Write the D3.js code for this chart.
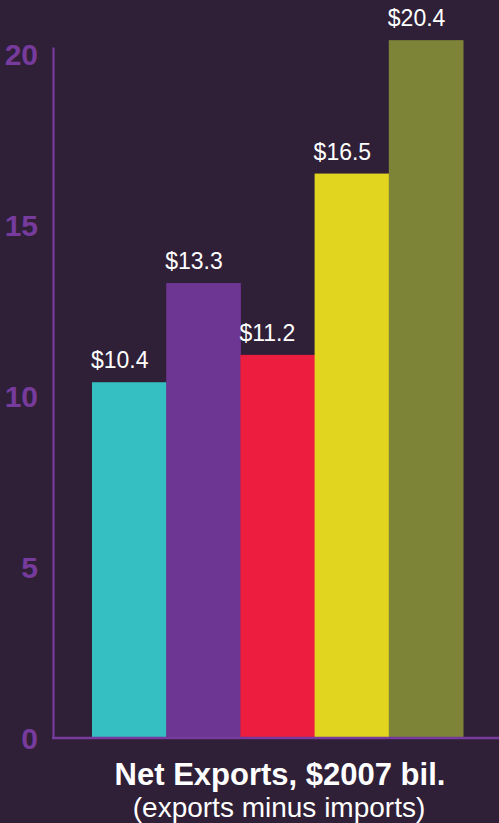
<!DOCTYPE html>
<html>
<head>
<meta charset="utf-8">
<script src="https://cdn.jsdelivr.net/npm/d3@7"></script>
<style>
  html, body { margin: 0; padding: 0; background: #2f2037; }
  svg { display: block; font-family: "Liberation Sans", Arial, Helvetica, sans-serif; }
</style>
</head>
<body>
<div id="chart"></div>
<script>
// data
const categories = ["A", "B", "C", "D", "E"];
const values = [10.4, 13.3, 11.2, 16.5, 20.4];
const valueLabels = ["$10.4", "$13.3", "$11.2", "$16.5", "$20.4"];
const yTicks = [0, 5, 10, 15, 20];
const barColors = ["#36bfc3", "#6d3692", "#ec1d3e", "#e1d51f", "#7d8437"];

const chartSettings = {
    width: 499,
    height: 823,
    axisX: 53,
    baseY: 738,
    axisTop: 47,
    barsLeft: 92,
    barsRight: 463,
    purple: "#763b9c",
};

const svg = d3.select("#chart").append("svg")
    .attr("width", chartSettings.width)
    .attr("height", chartSettings.height);

svg.append("rect")
    .attr("width", chartSettings.width)
    .attr("height", chartSettings.height)
    .attr("fill", "#2f2037");

const xScale = d3.scaleBand()
    .domain(categories)
    .range([chartSettings.barsLeft, chartSettings.barsRight])
    .padding(0);

const yScale = d3.scaleLinear()
    .domain([0, 20.2])
    .range([chartSettings.baseY, chartSettings.axisTop]);

const data = categories.map((c, i) => ({ cat: c, value: values[i], label: valueLabels[i], color: barColors[i] }));

// bars
svg.append("g")
    .selectAll("rect")
    .data(data)
    .join("rect")
    .attr("x", d => xScale(d.cat))
    .attr("y", d => yScale(d.value))
    .attr("width", xScale.bandwidth() + 0.5)
    .attr("height", d => yScale(0) - yScale(d.value))
    .attr("fill", d => d.color);

// value labels
svg.append("g")
    .selectAll("text")
    .data(data)
    .join("text")
    .attr("x", d => xScale(d.cat) - 1)
    .attr("y", d => yScale(d.value) - 14)
    .attr("fill", "#ffffff")
    .attr("font-size", 23)
    .text(d => d.label);

// y axis
const yAxis = svg.append("g")
    .attr("transform", `translate(${chartSettings.axisX},0)`)
    .call(d3.axisLeft(yScale).tickValues(yTicks).tickSize(0).tickSizeOuter(0).tickPadding(15));

yAxis.select(".domain")
    .attr("stroke", chartSettings.purple)
    .attr("stroke-width", 2.2);

yAxis.selectAll("text")
    .attr("fill", chartSettings.purple)
    .attr("font-size", 30)
    .attr("font-weight", "bold")
    .attr("font-family", "\"Liberation Sans\", Arial, sans-serif")
    .attr("dy", "0.36em");

// baseline
svg.append("line")
    .attr("x1", chartSettings.axisX - 1)
    .attr("x2", chartSettings.width)
    .attr("y1", yScale(0))
    .attr("y2", yScale(0))
    .attr("stroke", chartSettings.purple)
    .attr("stroke-width", 2.5);

// titles
svg.append("text")
    .attr("x", 280)
    .attr("y", 785)
    .attr("text-anchor", "middle")
    .attr("fill", "#ffffff")
    .attr("font-size", 31)
    .attr("font-weight", "bold")
    .text("Net Exports, $2007 bil.");

svg.append("text")
    .attr("x", 279)
    .attr("y", 817)
    .attr("text-anchor", "middle")
    .attr("fill", "#ffffff")
    .attr("font-size", 28)
    .text("(exports minus imports)");
</script>
</body>
</html>
